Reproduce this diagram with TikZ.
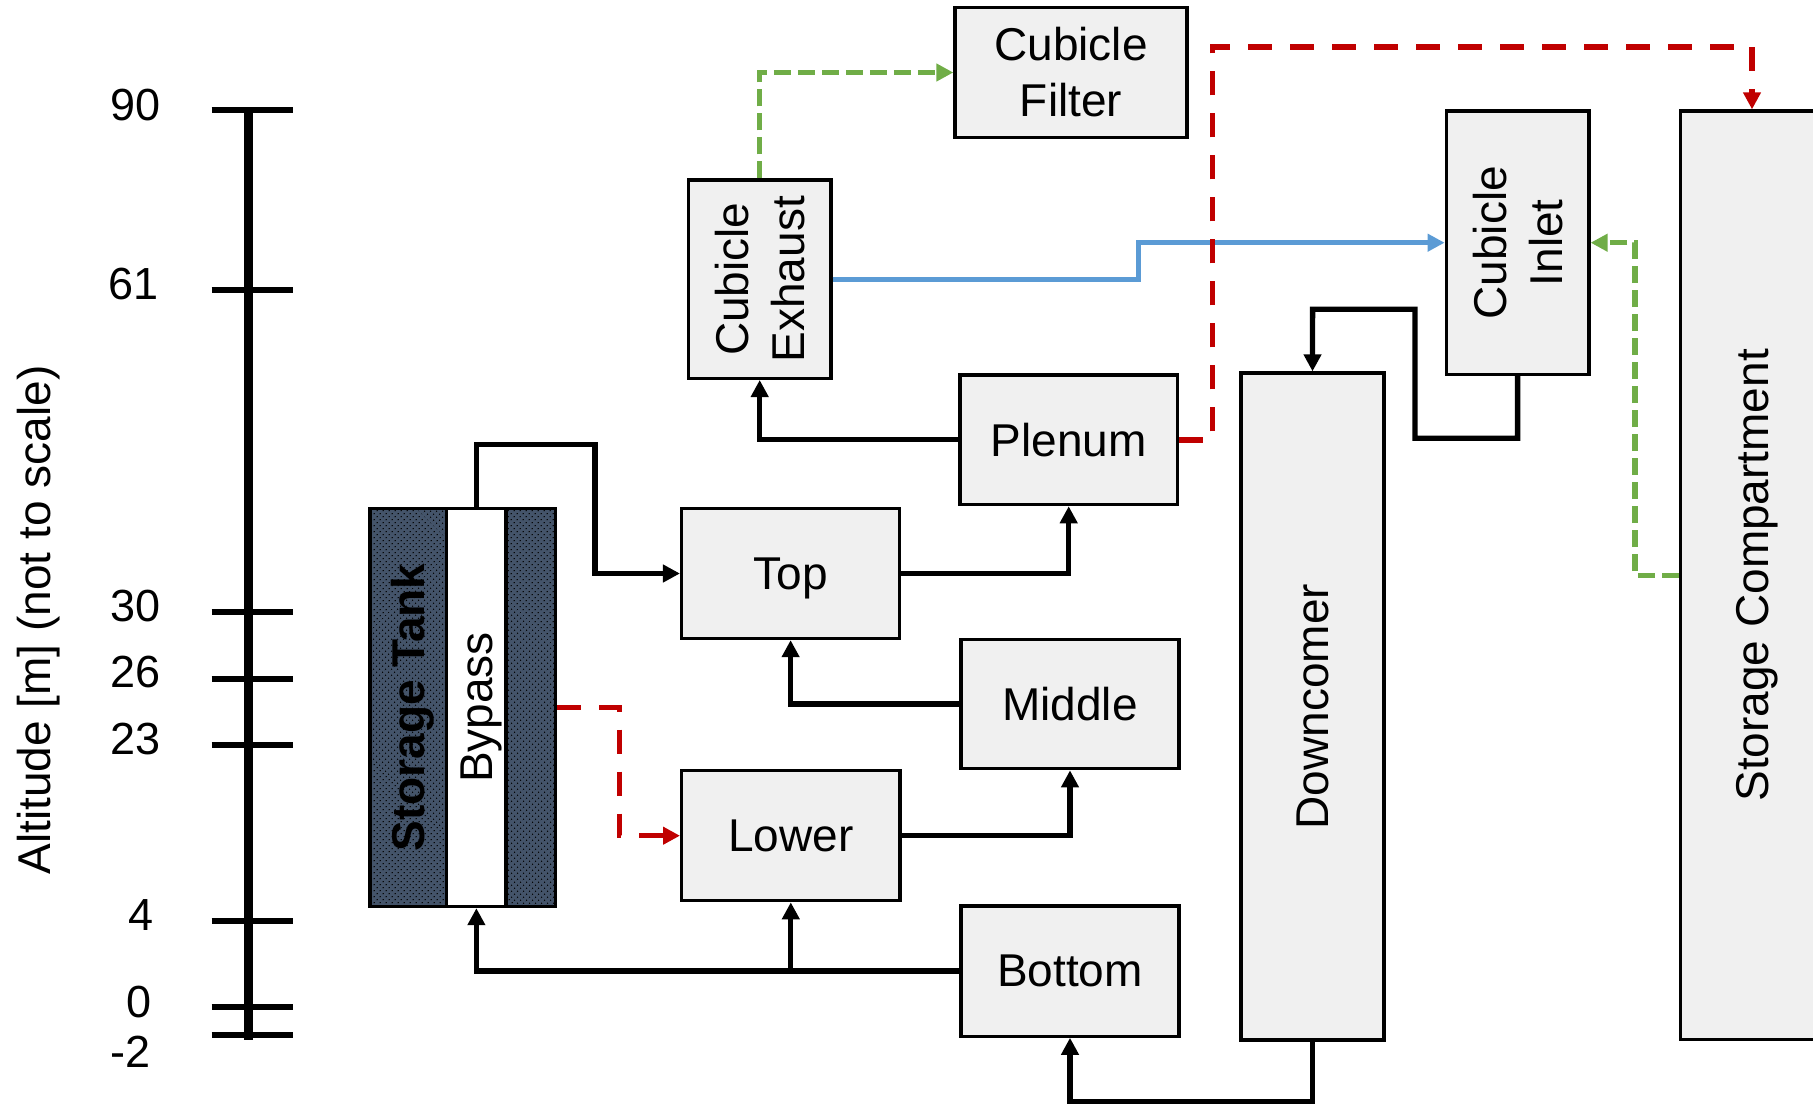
\documentclass[tikz,border=0pt]{standalone}
\usepackage{fontspec}
\setmainfont{Liberation Sans}
\usetikzlibrary{arrows.meta,patterns.meta}
\definecolor{boxfill}{HTML}{F0F0F0}
\definecolor{tankblue}{HTML}{44546A}
\definecolor{redc}{HTML}{C00000}
\definecolor{bluec}{HTML}{5B9BD5}
\definecolor{greenc}{HTML}{70AD47}
\begin{document}
\begin{tikzpicture}[x=1pt,y=-1pt,
  comp/.style={draw=black,line width=3.3pt,fill=boxfill,inner sep=0pt,font=\fontsize{46}{56}\selectfont},
  flow/.style={draw=black,line width=5.3pt,-{Triangle[length=17pt,width=17pt]}},
  redflow/.style={draw=redc,line width=5.5pt,dash pattern=on 24pt off 18pt,-{Triangle[length=17pt,width=17pt]}},
  greenflow/.style={draw=greenc,line width=5.5pt,dash pattern=on 17pt off 7pt,-{Triangle[length=17pt,width=17pt]}},
  blueflow/.style={draw=bluec,line width=5pt,-{Triangle[length=17pt,width=17pt]}},
  ticklabel/.style={font=\fontsize{45}{50}\selectfont,inner sep=0pt,text depth=0pt},
]
\clip (0,0) rectangle (1813,1106);

% altitude scale
\draw[line width=8.5pt] (248.3,110) -- (248.3,1040);
\foreach \y in {110,290,612,678.7,744.7,921.3,1006.7,1034.7}
  \draw[line width=6pt] (211.7,\y) -- (293.3,\y);
\node[ticklabel] (l90) at (135.5,105) {90};
\node[ticklabel] (l61) at (133.3,284) {61};
\node[ticklabel] (l30) at (135.5,605.5) {30};
\node[ticklabel] (l26) at (135.5,672) {26};
\node[ticklabel] (l23) at (135.5,739) {23};
\node[ticklabel] (l4) at (141,915.5) {4};
\node[ticklabel] (l0) at (139.5,1001.7) {0};
\node[ticklabel] (lm2) at (130.5,1051.7) {-2};
\node[font=\fontsize{46}{56}\selectfont,rotate=90,anchor=base,inner sep=0pt] (alt) at (50,620) {Altitude [m] (not to scale)};

% storage tank
\node[draw=black,line width=3.3pt,fill=tankblue,
  postaction={pattern={Dots[distance=4pt,radius=0.8pt,angle=45]},pattern color=black},
  minimum width=185.7pt,minimum height=398.1pt,inner sep=0pt] (tank) at (462.9,707.5) {};
\node[draw=black,line width=3.3pt,fill=white,minimum width=59.3pt,minimum height=398.1pt,inner sep=0pt,
  font=\fontsize{46}{56}\selectfont] (bypass) at (476.4,707.5)
  {\rotatebox{90}{\raisebox{0pt}[\height][0pt]{Bypass}}};
\node[font=\bfseries\fontsize{46}{56}\selectfont,inner sep=0pt] (tanklabel) at (408.3,707.5)
  {\rotatebox{90}{\raisebox{0pt}[\height][0pt]{Storage Tank}}};

% components
\node[comp,align=center,minimum width=232pt,minimum height=130.4pt] (filter) at (1071,72.5) {Cubicle\\Filter};
\node[comp,minimum width=142.7pt,minimum height=198.3pt] (exhaust) at (759.7,279.2)
  {\rotatebox{90}{\parbox{180pt}{\centering Cubicle\\Exhaust}}};
\node[comp,text depth=0pt,minimum width=217.4pt,minimum height=129.6pt] (plenum) at (1068.7,439.8) {Plenum};
\node[comp,text depth=0pt,minimum width=218pt,minimum height=130pt] (top) at (790.6,573.5) {Top};
\node[comp,text depth=0pt,minimum width=218pt,minimum height=129.4pt] (middle) at (1070,704) {Middle};
\node[comp,text depth=0pt,minimum width=218.3pt,minimum height=130pt] (lower) at (790.8,835.7) {Lower};
\node[comp,text depth=0pt,minimum width=218pt,minimum height=130.3pt] (bottom) at (1070,971) {Bottom};
\node[comp,minimum width=143pt,minimum height=667pt] (downcomer) at (1312.5,706.5) {\rotatebox{90}{Downcomer}};
\node[comp,minimum width=142.7pt,minimum height=263.3pt] (inlet) at (1517.6,242.7)
  {\rotatebox{90}{\parbox{180pt}{\centering Cubicle\\Inlet}}};
\node[comp,minimum width=143pt,minimum height=928.6pt] (storage) at (1752,575.3)
  {\rotatebox{90}{\raisebox{0pt}[\height][0pt]{Storage Compartment}}};

% connectors
\draw[flow] (bypass.north) |- (595,444.5) |- (top.west);
\draw[redflow] (tank.east) -- (619.3,707.5) |- (lower.west);
\draw[flow] (top.east) -| (plenum.south);
\draw[flow] (middle.west) -| (top.south);
\draw[flow] (lower.east) -| (middle.south);
\draw[flow] (bottom.west) -| (bypass.south);
\draw[flow] (lower.south |- bottom.west) -- (lower.south);
\draw[flow] (plenum.west) -| (exhaust.south);
\draw[greenflow] (exhaust.north) |- (filter.west);
\draw[blueflow] (exhaust.east) -- (1138.7,279.2) |- (inlet.west);
\draw[redflow] (plenum.east) -| (1212.6,47) -| (storage.north);
\draw[greenflow] (storage.west) -| (1635,242.7) -- (inlet.east);
\draw[flow] (inlet.south) |- (1415,438.2) |- (1312.6,309.2) -- (downcomer.north);
\draw[flow] (downcomer.south) -- (1312.5,1101.5) -| (bottom.south);
\end{tikzpicture}
\end{document}
